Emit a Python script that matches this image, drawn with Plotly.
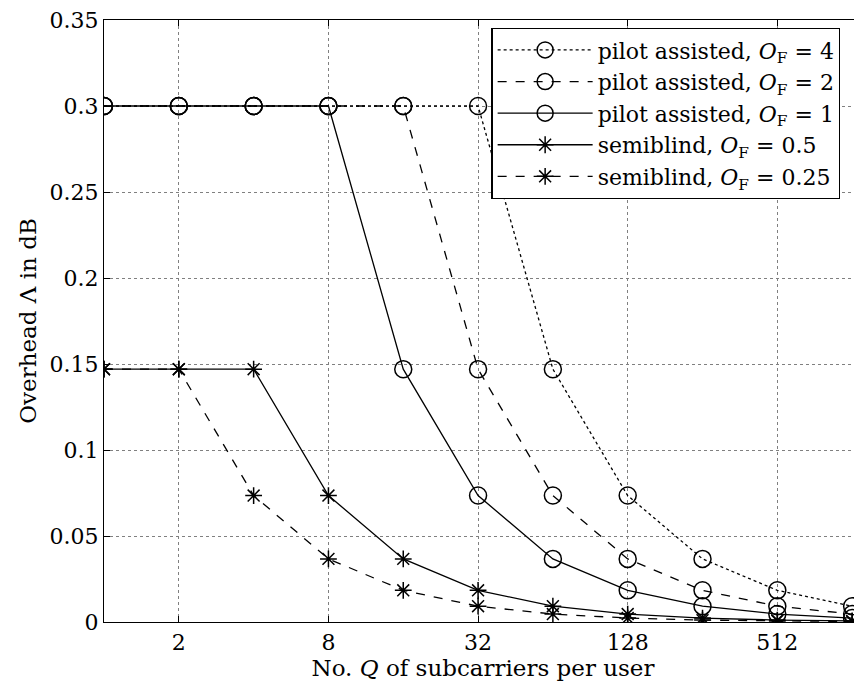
import plotly.graph_objects as go

# subcarriers per user Q
Q = [1, 2, 4, 8, 16, 32, 64, 128, 256, 512, 1024]

# overhead in dB
pilot_of4 = [0.3, 0.3, 0.3, 0.3, 0.3, 0.3, 0.147, 0.0735, 0.0367, 0.0184, 0.0092]
pilot_of2 = [0.3, 0.3, 0.3, 0.3, 0.3, 0.147, 0.0735, 0.0367, 0.0184, 0.0092, 0.0046]
pilot_of1 = [0.3, 0.3, 0.3, 0.3, 0.147, 0.0735, 0.0367, 0.0184, 0.0092, 0.0046, 0.0023]
semi_of05 = [0.147, 0.147, 0.147, 0.0735, 0.0367, 0.0184, 0.0092, 0.0046, 0.0023, 0.0011, 0.0006]
semi_of025 = [0.147, 0.147, 0.0735, 0.0367, 0.0184, 0.0092, 0.0046, 0.0023, 0.0011, 0.0006, 0.0003]

xticks = [2, 8, 32, 128, 512]
yticks = [0, 0.05, 0.1, 0.15, 0.2, 0.25, 0.3, 0.35]

FONT = "DejaVu Serif"

series = [
    ("pilot assisted, <i>O</i><sub>F</sub> = 4", pilot_of4, "dot", "circle-open"),
    ("pilot assisted, <i>O</i><sub>F</sub> = 2", pilot_of2, "dash", "circle-open"),
    ("pilot assisted, <i>O</i><sub>F</sub> = 1", pilot_of1, "solid", "circle-open"),
    ("semiblind, <i>O</i><sub>F</sub> = 0.5", semi_of05, "solid", "asterisk-open"),
    ("semiblind, <i>O</i><sub>F</sub> = 0.25", semi_of025, "dash", "asterisk-open"),
]

fig = go.Figure()

for name, vals, dash, sym in series:
    fig.add_trace(go.Scatter(
        x=Q,
        y=vals,
        mode="lines+markers",
        name=name,
        line=dict(color="black", width=1.3, dash=dash),
        marker=dict(
            symbol=sym,
            size=17 if sym == "circle-open" else 14,
            color="black",
            line=dict(width=1.5, color="black"),
        ),
    ))

# page body has a small margin, so the figure is a bit smaller than the window
fig.update_layout(
    width=854,
    height=682,
    plot_bgcolor="white",
    paper_bgcolor="white",
    font=dict(family=FONT, size=22, color="black"),
    margin=dict(l=96, r=0, t=12, b=68),
    xaxis=dict(
        type="log",
        range=[0, 3.05],
        tickvals=xticks,
        ticktext=[str(v) for v in xticks],
        showgrid=True,
        gridcolor="#808080",
        griddash="dot",
        gridwidth=1,
        zeroline=False,
        showline=True,
        linecolor="black",
        linewidth=1.3,
        mirror="ticks",
        ticks="inside",
        ticklen=6,
        tickcolor="black",
        tickfont=dict(size=22),
        title=dict(text="No. <i>Q</i> of subcarriers per user", font=dict(size=23), standoff=4),
    ),
    yaxis=dict(
        range=[0, 0.35],
        tickvals=yticks,
        ticklabeloverflow="allow",
        showgrid=True,
        gridcolor="#808080",
        griddash="dot",
        gridwidth=1,
        zeroline=False,
        showline=True,
        linecolor="black",
        linewidth=1.3,
        mirror="ticks",
        ticks="inside",
        ticklen=6,
        tickcolor="black",
        tickfont=dict(size=22),
        title=dict(text="Overhead Λ in dB", font=dict(size=23), standoff=6),
    ),
    legend=dict(
        x=0.511,
        y=0.987,
        xanchor="left",
        yanchor="top",
        bgcolor="white",
        bordercolor="black",
        borderwidth=1.3,
        font=dict(size=22, family=FONT),
        tracegroupgap=0,
        itemwidth=95,
    ),
)

fig.write_html("out.html")
